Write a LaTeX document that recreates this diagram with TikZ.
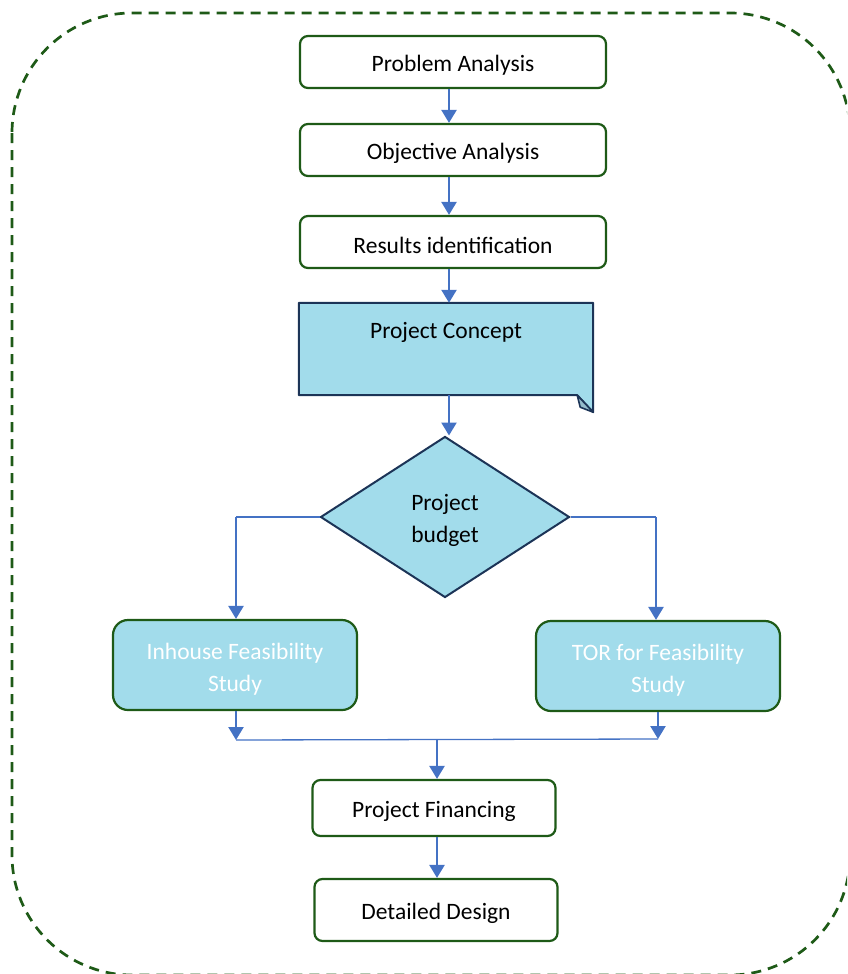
\documentclass[tikz,border=0pt]{standalone}
\usepackage{fontspec}
\setmainfont{Carlito}
\usetikzlibrary{arrows.meta,shapes.geometric}
\definecolor{boxgreen}{HTML}{1E5A17}
\definecolor{flowblue}{HTML}{4472C4}
\definecolor{paleblue}{HTML}{A2DCEB}
\definecolor{navy}{HTML}{1C3457}
\begin{document}
\begin{tikzpicture}[x=1pt,y=-1pt,
  txt/.style={font=\fontsize{23.5}{32}\selectfont, align=center},
  caption/.style={label={[txt,yshift=-3pt]center:#1}},
  whitecaption/.style={label={[txt,text=white,yshift=-4pt]center:#1}},
  stepbox/.style={draw=boxgreen, line width=2.2pt, rounded corners=8pt, fill=white, minimum width=306pt, minimum height=52pt, inner sep=0pt},
  endbox/.style={stepbox, minimum width=243pt, minimum height=56pt},
  studybox/.style={draw=boxgreen, line width=2.2pt, rounded corners=15pt, fill=paleblue, minimum width=244pt, minimum height=90pt, inner sep=0pt},
  flow/.style={draw=flowblue, line width=2.4pt, -{Triangle[width=15pt,length=13pt]}},
  thin/.style={draw=flowblue, line width=1.3pt}]
\clip (0,0) rectangle (847,974);
\useasboundingbox (0,0) rectangle (847,974);

% outer dashed frame
\draw[boxgreen, line width=2.7pt, dash pattern=on 10pt off 7pt, rounded corners=120pt]
  (12,13) rectangle (850,975);

% upper chain
\node[stepbox, caption={Problem Analysis}] (pa) at (453,62) {};
\node[stepbox, caption={Objective Analysis}] (oa) at (453,150) {};
\node[stepbox, caption={Results identification}] (ri) at (453,242) {};

% document shape with folded corner
\node[minimum width=294pt, minimum height=92pt, inner sep=0pt] (pc) at (446,349) {};
\draw[navy, line width=2pt, fill=paleblue, line join=round]
  (pc.north west) -- (pc.north east) -- ([yshift=-17pt]pc.south east)
  -- ([xshift=-16pt]pc.south east) -- (pc.south west) -- cycle;
\draw[navy, line width=1.6pt, fill=paleblue!70!navy!80, line join=round]
  ([xshift=-16pt]pc.south east) -- ([xshift=-13pt,yshift=-12pt]pc.south east)
  -- ([yshift=-17pt]pc.south east) -- cycle;
\node[txt] (pct) at (446,332) {Project Concept};

% decision
\node[diamond, draw=navy, line width=2pt, fill=paleblue, minimum width=249pt, minimum height=161pt, inner sep=0pt,
  caption={Project\\budget}] (pb) at (445,517) {};

% feasibility options
\node[studybox, whitecaption={Inhouse Feasibility\\Study}] (inh) at (235,665) {};
\node[studybox, whitecaption={TOR for Feasibility\\Study}] (tor) at (658,666) {};

% lower chain
\node[endbox, caption={Project Financing}] (pf) at (434,808) {};
\node[endbox, minimum height=62pt, caption={Detailed Design}] (dd) at (436,910) {};

% connectors
\draw[flow] (pa.south -| 449,0) -- (oa.north -| 449,0);
\draw[flow] (oa.south -| 449,0) -- (ri.north -| 449,0);
\draw[flow] (ri.south -| 449,0) -- (pc.north -| 449,0);
\draw[flow] (pc.south -| 449,0) -- (pb.north -| 449,0);

\coordinate (bl) at (236,517);
\coordinate (br) at (656,517);
\draw[thin] (pb.west) -- (bl);
\draw[thin] (pb.east) -- (br);
\draw[flow] (bl) -- (inh.north -| bl);
\draw[flow] (br) -- (tor.north -| br);

\coordinate (jl) at (236,740);
\coordinate (jr) at (658,739);
\coordinate (jm) at (437,740);
\draw[flow] (inh.south -| jl) -- (jl);
\draw[flow] (tor.south -| jr) -- (jr);
\draw[thin] (jl) -- (jr);
\draw[flow] (jm) -- (pf.north -| jm);
\draw[flow] (pf.south -| jm) -- (dd.north -| jm);
\end{tikzpicture}
\end{document}
